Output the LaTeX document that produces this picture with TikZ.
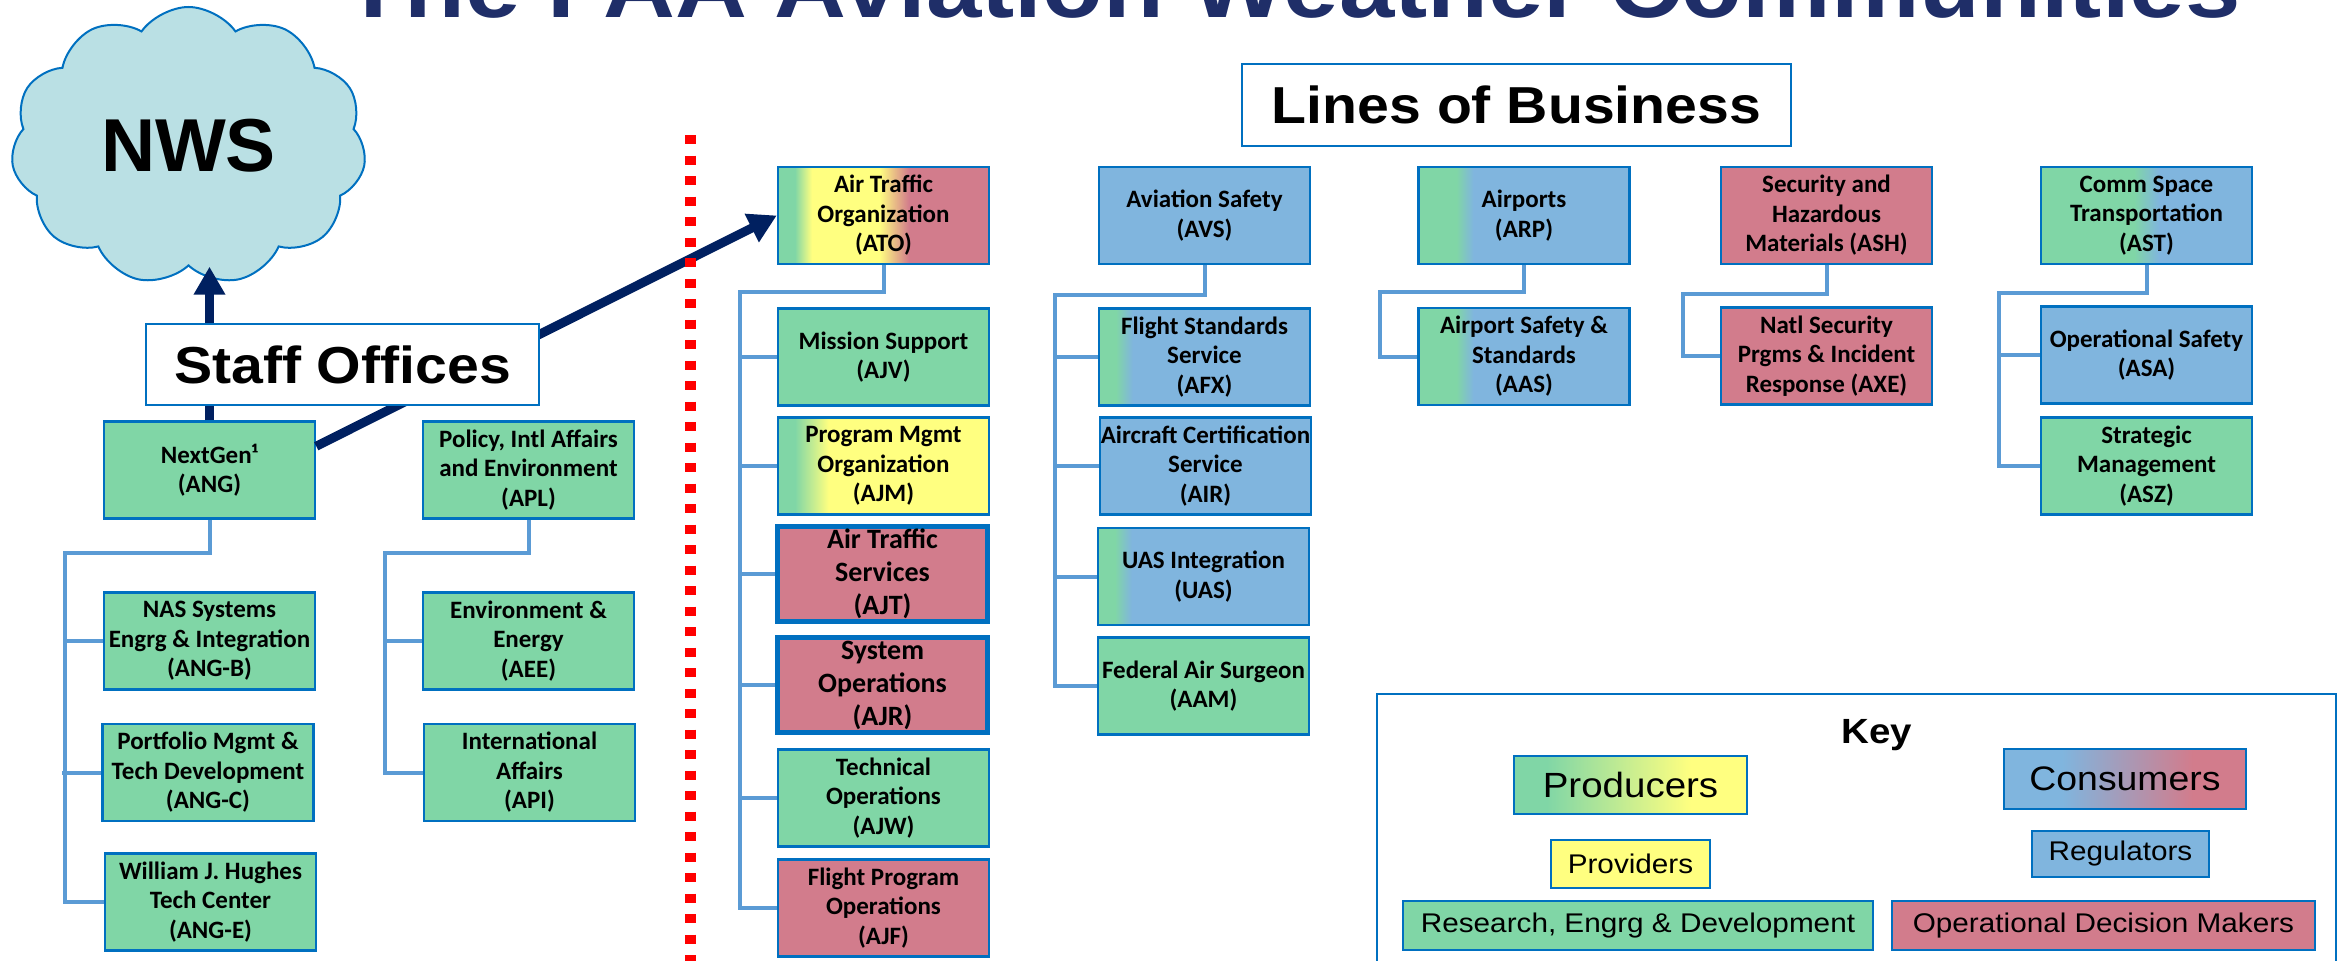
\documentclass[tikz,border=0pt]{standalone}
\usepackage{fontspec}
\setmainfont{Carlito}
\newfontfamily\arialfont[FakeStretch=1.1]{Liberation Sans}
\newfontfamily\nwsfont{Liberation Sans}
\usetikzlibrary{arrows.meta,shapes.symbols}

\definecolor{rdgreen}{RGB}{128,214,166}
\definecolor{provyellow}{RGB}{255,255,128}
\definecolor{regblue}{RGB}{128,181,222}
\definecolor{opred}{RGB}{210,124,140}
\definecolor{edgeblue}{RGB}{0,112,192}
\definecolor{linkblue}{RGB}{91,155,213}
\definecolor{navy}{RGB}{0,32,96}
\definecolor{titlenavy}{RGB}{31,46,104}
\definecolor{cloudfill}{RGB}{186,224,228}

\pgfdeclarehorizontalshading{atoshade}{100bp}{color(0bp)=(rdgreen); color(29bp)=(rdgreen); color(33bp)=(provyellow); color(49bp)=(provyellow); color(56bp)=(opred); color(100bp)=(opred)}
\pgfdeclarehorizontalshading{ajmshade}{100bp}{color(0bp)=(rdgreen); color(29bp)=(rdgreen); color(37bp)=(provyellow); color(100bp)=(provyellow)}
\pgfdeclarehorizontalshading{afxshade}{100bp}{color(0bp)=(rdgreen); color(29bp)=(rdgreen); color(33bp)=(regblue); color(100bp)=(regblue)}
\pgfdeclarehorizontalshading{arpshade}{100bp}{color(0bp)=(rdgreen); color(34bp)=(rdgreen); color(38bp)=(regblue); color(100bp)=(regblue)}
\pgfdeclarehorizontalshading{astshade}{100bp}{color(0bp)=(rdgreen); color(47bp)=(rdgreen); color(53bp)=(regblue); color(100bp)=(regblue)}
\pgfdeclarehorizontalshading{prodshade}{100bp}{color(0bp)=(rdgreen); color(32bp)=(rdgreen); color(63bp)=(provyellow); color(100bp)=(provyellow)}
\pgfdeclarehorizontalshading{consshade}{100bp}{color(0bp)=(regblue); color(37bp)=(regblue); color(64bp)=(opred); color(100bp)=(opred)}

\tikzset{
    office/.style={draw=edgeblue, line width=2.5pt, inner sep=0pt, align=center,
        minimum width=211pt, minimum height=97pt,
        font=\fontsize{25}{29.5}\selectfont\bfseries},
    rdbox/.style={office, fill=rdgreen},
    provbox/.style={office, fill=provyellow},
    regbox/.style={office, fill=regblue},
    opbox/.style={office, fill=opred},
    bigop/.style={opbox, line width=5pt, minimum width=210pt, minimum height=95pt,
        font=\fontsize{28}{33}\selectfont\bfseries},
    headbox/.style={draw=edgeblue, line width=2pt, fill=white, inner sep=0pt,
        font=\arialfont\bfseries\fontsize{52}{56}\selectfont},
    keybox/.style={draw=edgeblue, line width=2.5pt, inner sep=0pt,
        font=\arialfont\fontsize{27}{30}\selectfont},
    keyframe/.style={draw=edgeblue, line width=2.5pt},
    cloudbox/.style={cloud, cloud puffs=11, cloud puff arc=110, aspect=1.3,
        draw=edgeblue, line width=2pt, fill=cloudfill, inner sep=0pt,
        minimum width=355pt, minimum height=278pt,
        font=\nwsfont\bfseries\fontsize{75}{80}\selectfont},
    link/.style={draw=linkblue, line width=4pt},
    bigarrow/.style={draw=navy, line width=9pt, -{Triangle[length=28pt,width=30pt]}},
    divider/.style={draw=red, line width=11pt, dash pattern=on 9pt off 11.5pt},
}

\begin{document}
\begin{tikzpicture}[x=1pt, y=-1pt]
    \useasboundingbox (0,0) rectangle (2338,961);
    \clip (0,0) rectangle (2338,961);

    \node[font=\arialfont\bfseries\fontsize{90.5}{92}\selectfont, text=titlenavy, anchor=base]
        (title) at (1292,17) {The FAA Aviation Weather Communities};

    \node[cloudbox] (nws) at (188.5,146) {NWS};

    \node[rdbox] (ng) at (209.5,470) {NextGen¹\\(ANG)};
    \node[rdbox] (apl) at (528.5,470) {Policy, Intl Affairs\\and Environment\\(APL)};
    \node[rdbox] (angb) at (209.5,641) {NAS Systems\\Engrg \& Integration\\(ANG-B)};
    \node[rdbox] (angc) at (208,772.5) {Portfolio Mgmt \&\\Tech Development\\(ANG-C)};
    \node[rdbox] (ange) at (210.5,902) {William J. Hughes\\Tech Center\\(ANG-E)};
    \node[rdbox] (aee) at (528.5,641) {Environment \&\\Energy\\(AEE)};
    \node[rdbox] (api) at (529.5,772.5) {International\\Affairs\\(API)};

    \node[office, shading=atoshade] (ato) at (883.5,215.5) {Air Traffic\\Organization\\(ATO)};
    \node[rdbox] (ajv) at (883.5,357) {Mission Support\\(AJV)};
    \node[office, shading=ajmshade] (ajm) at (883.5,466) {Program Mgmt\\Organization\\(AJM)};
    \node[bigop] (ajt) at (882.5,573.5) {Air Traffic\\Services\\(AJT)};
    \node[bigop] (ajr) at (882.5,685) {System\\Operations\\(AJR)};
    \node[rdbox] (ajw) at (883.5,798) {Technical\\Operations\\(AJW)};
    \node[opbox] (ajf) at (883.5,908) {Flight Program\\Operations\\(AJF)};

    \node[regbox] (avs) at (1204.5,215.5) {Aviation Safety\\(AVS)};
    \node[office, shading=afxshade] (afx) at (1204.5,357) {Flight Standards\\Service\\(AFX)};
    \node[regbox] (air) at (1205.5,466) {Aircraft Certification\\Service\\(AIR)};
    \node[office, shading=afxshade] (uas) at (1203.5,576.5) {UAS Integration\\(UAS)};
    \node[rdbox] (aam) at (1203.5,686) {Federal Air Surgeon\\(AAM)};

    \node[office, shading=arpshade] (arp) at (1524,215.5) {Airports\\(ARP)};
    \node[office, shading=arpshade] (aas) at (1524,356.5) {Airport Safety \&\\Standards\\(AAS)};

    \node[opbox] (ash) at (1826.5,215.5) {Security and\\Hazardous\\Materials (ASH)};
    \node[opbox] (axe) at (1826.5,356) {Natl Security\\Prgms \& Incident\\Response (AXE)};

    \node[office, shading=astshade] (ast) at (2146.5,215.5) {Comm Space\\Transportation\\(AST)};
    \node[regbox] (asa) at (2146.5,355) {Operational Safety\\(ASA)};
    \node[rdbox] (asz) at (2146.5,466) {Strategic\\Management\\(ASZ)};

    \draw[link]
        (ng.south) -- ++(0,33) -| ([xshift=-39pt]ange.west) -- (ange.west)
        ([xshift=-39pt]angb.west) -- (angb.west)
        ([xshift=-39pt]angc.west) -- (angc.west)

        (apl.south) -- ++(0,33) -| ([xshift=-38pt]api.west) -- (api.west)
        ([xshift=-38pt]aee.west) -- (aee.west)

        (ato.south) -- ++(0,27) -| ([xshift=-37pt]ajf.west) -- (ajf.west)
        ([xshift=-37pt]ajv.west) -- (ajv.west)
        ([xshift=-37pt]ajm.west) -- (ajm.west)
        ([xshift=-35pt]ajt.west) -- (ajt.west)
        ([xshift=-35pt]ajr.west) -- (ajr.west)
        ([xshift=-37pt]ajw.west) -- (ajw.west)

        (avs.south) -- ++(0,30) -| ([xshift=-42pt]aam.west) -- (aam.west)
        ([xshift=-44pt]afx.west) -- (afx.west)
        ([xshift=-45pt]air.west) -- (air.west)
        ([xshift=-42pt]uas.west) -- (uas.west)

        (arp.south) -- ++(0,27) -| ([xshift=-37pt]aas.west) -- (aas.west)

        (ash.south) -- ++(0,29) -| ([xshift=-37pt]axe.west) -- (axe.west)

        (ast.south) -- ++(0,28) -| ([xshift=-41pt]asz.west) -- (asz.west)
        ([xshift=-41pt]asa.west) -- (asa.west)
    ;

    \draw[bigarrow] (ng.north) -- (ng.north |- nws.south);
    \draw[bigarrow] ([yshift=-26pt]ng.north east) -- (ato.west);

    \node[headbox, minimum width=393pt, minimum height=81pt] (staff) at (342.5,364.5) {Staff Offices};
    \node[headbox, minimum width=549pt, minimum height=82pt] (lob) at (1516.5,105) {Lines of Business};

    \draw[divider] (690,135) -- (690,961);

    \draw[keyframe] (1377,694) rectangle (2336,1000);
    \node[font=\arialfont\bfseries\fontsize{35}{38}\selectfont] (keytitle) at (1877,735) {Key};
    \node[keybox, shading=prodshade, minimum width=233pt, minimum height=58pt,
        font=\arialfont\fontsize{35}{38}\selectfont] (prod) at (1630.5,785) {Producers};
    \node[keybox, shading=consshade, minimum width=242pt, minimum height=60pt,
        font=\arialfont\fontsize{34}{38}\selectfont] (cons) at (2125,779) {Consumers};
    \node[keybox, fill=provyellow, minimum width=159pt, minimum height=48pt] (prov) at (1630.5,864) {Providers};
    \node[keybox, fill=regblue, minimum width=177pt, minimum height=46pt] (regu) at (2120.5,854) {Regulators};
    \node[keybox, fill=rdgreen, minimum width=470pt, minimum height=49pt] (rnd) at (1638,925.5) {Research, Engrg \& Development};
    \node[keybox, fill=opred, minimum width=423pt, minimum height=49pt] (odm) at (2103.5,925.5) {Operational Decision Makers};
\end{tikzpicture}
\end{document}
